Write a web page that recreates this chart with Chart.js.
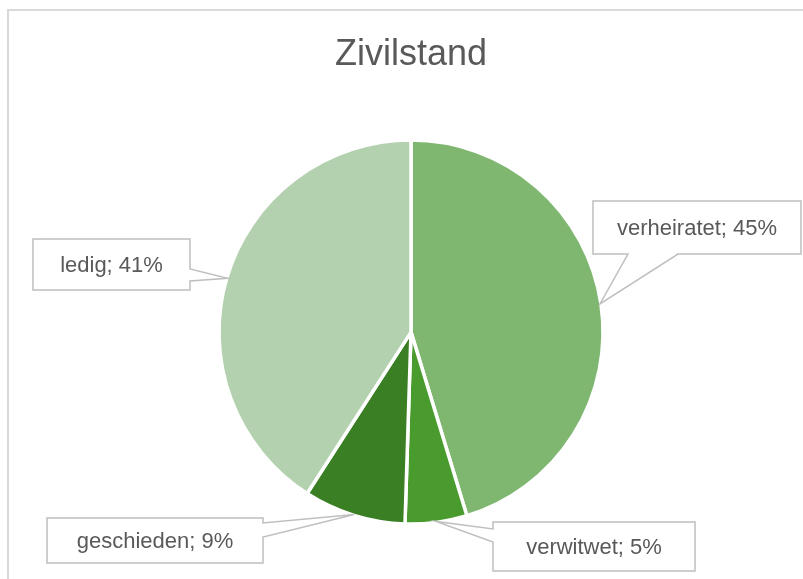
<!DOCTYPE html>
<html>
<head>
<meta charset="utf-8">
<script src="https://cdn.jsdelivr.net/npm/chart.js@4/dist/chart.umd.min.js"></script>
<style>
  html, body { margin: 0; padding: 0; background: #fff; }
  #wrap { position: relative; width: 803px; height: 579px; }
  #frame { position: absolute; left: 7px; top: 9px; right: -5px; bottom: -5px; border: 2px solid #d9d9d9; }
  canvas { position: absolute; left: 0; top: 0; }
</style>
</head>
<body>
<div id="wrap">
  <div id="frame"></div>
  <canvas id="chartZivilstand" width="803" height="579"></canvas>
</div>
<script>
const categories = ["verheiratet", "verwitwet", "geschieden", "ledig"];
const shares = [45.3, 5.2, 8.6, 40.9];
const sliceColors = ["#7fb770", "#4a9b2e", "#3b7f24", "#b3d1ae"];

// callout boxes: x, y, w, h, side of the pointer and where it leaves the box
const callouts = [
    { x: 593, y: 201, w: 208, h: 53, side: "bottom", a: 628, b: 678 },
    { x: 493, y: 522, w: 202, h: 49, side: "left", a: 529, b: 542 },
    { x: 47, y: 518, w: 216, h: 45, side: "right", a: 523, b: 537 },
    { x: 33, y: 239, w: 157, h: 51, side: "right", a: 269, b: 281 }
];

const calloutPlugin = {
    id: "callouts",
    afterDraw(chart) {
        const ctx = chart.ctx;
        const meta = chart.getDatasetMeta(0);
        const values = chart.data.datasets[0].data;
        const total = values.reduce((s, v) => s + v, 0);
        ctx.save();
        meta.data.forEach((arc, i) => {
            const c = callouts[i];
            const mid = (arc.startAngle + arc.endAngle) / 2;
            const tx = arc.x + Math.cos(mid) * (arc.outerRadius - 1);
            const ty = arc.y + Math.sin(mid) * (arc.outerRadius - 1);
            const r = c.x + c.w, btm = c.y + c.h;
            ctx.beginPath();
            ctx.moveTo(c.x, c.y);
            ctx.lineTo(r, c.y);
            if (c.side === "right") {
                ctx.lineTo(r, c.a); ctx.lineTo(tx, ty); ctx.lineTo(r, c.b);
            }
            ctx.lineTo(r, btm);
            if (c.side === "bottom") {
                ctx.lineTo(c.b, btm); ctx.lineTo(tx, ty); ctx.lineTo(c.a, btm);
            }
            ctx.lineTo(c.x, btm);
            if (c.side === "left") {
                ctx.lineTo(c.x, c.b); ctx.lineTo(tx, ty); ctx.lineTo(c.x, c.a);
            }
            ctx.closePath();
            ctx.fillStyle = "#ffffff";
            ctx.fill();
            ctx.strokeStyle = "#bfbfbf";
            ctx.lineWidth = 1.5;
            ctx.stroke();

            const pct = Math.round(values[i] / total * 100);
            ctx.fillStyle = "#595959";
            ctx.font = "22px 'Liberation Sans', Arial, sans-serif";
            ctx.textAlign = "center";
            ctx.textBaseline = "middle";
            ctx.fillText(chart.data.labels[i] + "; " + pct + "%", c.x + c.w / 2, c.y + c.h / 2 + 1);
        });
        ctx.restore();
    }
};

new Chart(document.getElementById("chartZivilstand"), {
    type: "pie",
    data: {
        labels: categories,
        datasets: [{
            data: shares,
            backgroundColor: sliceColors,
            borderColor: "#ffffff",
            borderWidth: 3.5
        }]
    },
    options: {
        responsive: false,
        animation: false,
        radius: 192,
        layout: { padding: { top: 0, bottom: 0, left: 19, right: 0 } },
        plugins: {
            legend: { display: false },
            tooltip: { enabled: false },
            title: {
                display: true,
                text: "Zivilstand",
                color: "#595959",
                font: { family: "'Liberation Sans', Arial, sans-serif", size: 36, weight: "normal" },
                padding: { top: 33, bottom: 9 }
            }
        }
    },
    plugins: [calloutPlugin]
});
</script>
</body>
</html>
